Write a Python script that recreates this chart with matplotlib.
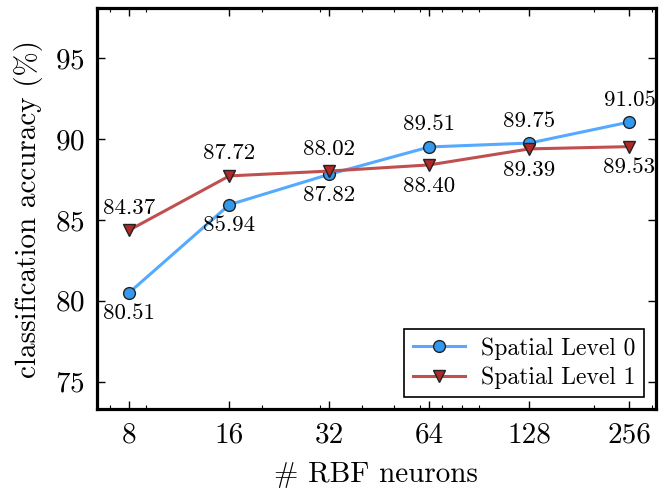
import numpy as np
import matplotlib
matplotlib.use("Agg")
import matplotlib.pyplot as plt
from matplotlib.ticker import FixedLocator, NullFormatter, LogLocator

plt.rcParams['font.family'] = 'serif'
plt.rcParams['font.serif'] = ['cmr10', 'DejaVu Serif']
plt.rcParams['mathtext.fontset'] = 'cm'
plt.rcParams['axes.formatter.use_mathtext'] = True

neurons = [8, 16, 32, 64, 128, 256]
level0 = [80.51, 85.94, 87.82, 89.51, 89.75, 91.05]
level1 = [84.37, 87.72, 88.02, 88.40, 89.39, 89.53]
# which series gets its label above the point (True) or below
level0_above = [False, False, False, True, True, True]
level1_above = [True, True, True, False, False, False]

fig = plt.figure(figsize=(6.65, 4.99), dpi=100)
ax = fig.add_axes([0.146, 0.180, 0.840, 0.804])

ax.plot(neurons, level0, color='#55aaff', lw=2.2, marker='o', ms=8.5,
        mfc='#3399ee', mec='#222222', mew=1.0, label='Spatial Level 0', zorder=3)
ax.plot(neurons, level1, color='#c05050', lw=2.2, marker='v', ms=9,
        mfc='#b02828', mec='#222222', mew=1.0, label='Spatial Level 1', zorder=3)

for xs, ys, ups in [(neurons, level0, level0_above), (neurons, level1, level1_above)]:
    for x, y, up in zip(xs, ys, ups):
        if up:
            ax.annotate('%.2f' % y, (x, y), xytext=(0, 9), textcoords='offset points',
                        ha='center', va='bottom', fontsize=16.5)
        else:
            ax.annotate('%.2f' % y, (x, y), xytext=(0, -8), textcoords='offset points',
                        ha='center', va='top', fontsize=16.5)

ax.set_xscale('log')
ax.set_xlim(6.4, 307)
ax.set_ylim(73.3, 98.1)
ax.xaxis.set_major_locator(FixedLocator(neurons))
ax.set_xticklabels([str(n) for n in neurons])
ax.xaxis.set_minor_locator(LogLocator(base=10, subs=np.arange(2, 10)))
ax.xaxis.set_minor_formatter(NullFormatter())
ax.set_yticks([75, 80, 85, 90, 95])

ax.tick_params(which='both', direction='in', top=True, right=True, labelsize=21)
ax.tick_params(which='major', length=6, width=1.0, pad=9)
ax.tick_params(which='minor', length=3, width=0.8)
for s in ax.spines.values():
    s.set_linewidth(2.3)

ax.set_xlabel('# RBF neurons', fontsize=21, labelpad=10)
ax.set_ylabel('classification accuracy (%)', fontsize=21, labelpad=8)

leg = ax.legend(loc='lower right', fontsize=17, fancybox=False, framealpha=1,
                edgecolor='black', handlelength=2.2, borderpad=0.35,
                handletextpad=0.7, labelspacing=0.3)
leg.get_frame().set_linewidth(1.2)

fig.savefig('out.png', dpi=100)
